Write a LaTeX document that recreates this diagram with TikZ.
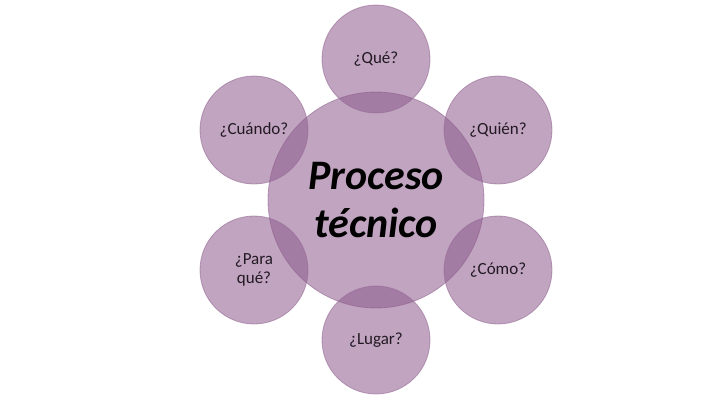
\documentclass[tikz,border=0pt]{standalone}
\usepackage{fontspec}
\setmainfont{Carlito}
\definecolor{petal}{RGB}{140,90,140}
\definecolor{rim}{RGB}{150,105,150}
\definecolor{txt}{RGB}{35,25,35}
\begin{document}
\begin{tikzpicture}[x=1pt,y=-1pt,
  blob/.style={circle,fill=petal,fill opacity=0.55,draw=rim,draw opacity=0.6,line width=0.8pt,inner sep=0pt,text opacity=1,text=txt,align=center},
  sat/.style={blob,minimum size=108pt,font=\fontsize{17}{19}\selectfont},
  hub/.style={blob,minimum size=216pt,font=\fontsize{42}{48}\selectfont\bfseries\itshape,text=black}]
\useasboundingbox (0,0) rectangle (720,405);
\node[hub] (hub) at (376,200) {Proceso\\técnico};
\node[sat] (que) at (376,59) {¿Qué?};
\node[sat] (quien) at (498,130) {¿Quién?};
\node[sat] (como) at (498,270) {¿Cómo?};
\node[sat] (lugar) at (376,340) {¿Lugar?};
\node[sat] (para) at (254,270) {¿Para\\qué?};
\node[sat] (cuando) at (254,130) {¿Cuándo?};
\end{tikzpicture}
\end{document}
